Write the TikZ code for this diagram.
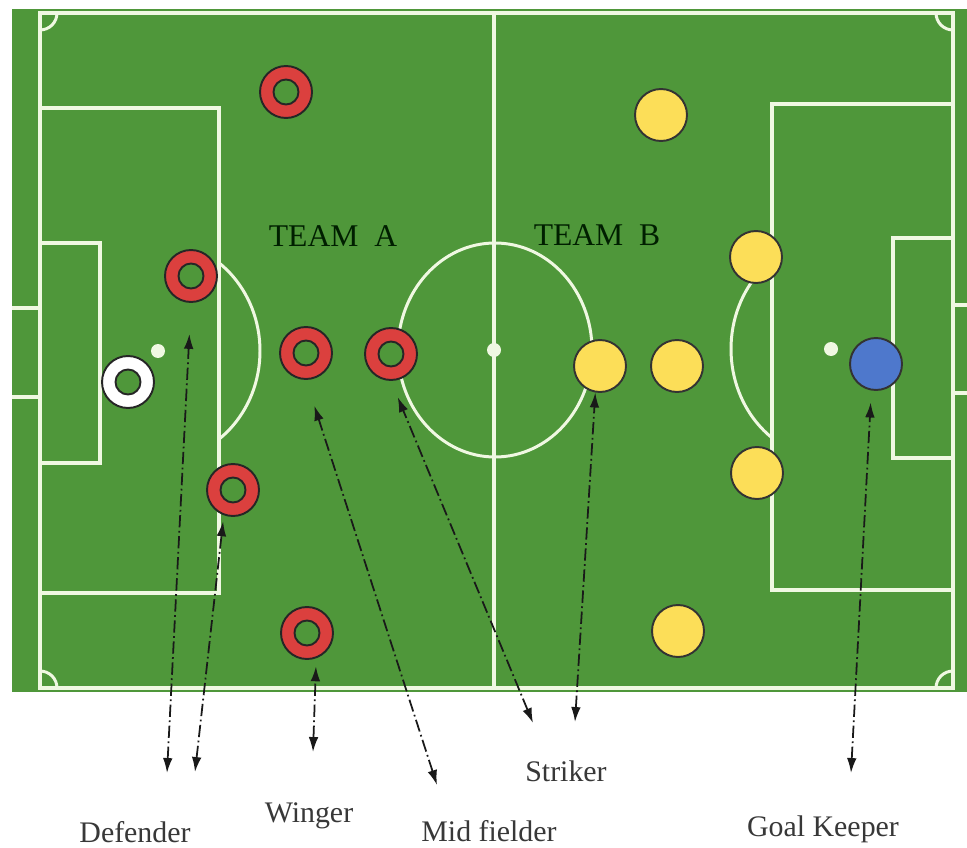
\documentclass[tikz,border=0pt]{standalone}
\usepackage{fontspec}
\setmainfont{Liberation Serif}
\usepackage{tikz}
\usetikzlibrary{arrows.meta}
\definecolor{pitch}{RGB}{79,151,58}
\definecolor{chalk}{RGB}{240,248,226}
\definecolor{redteam}{RGB}{219,64,62}
\definecolor{yellowteam}{RGB}{252,222,88}
\definecolor{blueteam}{RGB}{78,120,204}
\tikzstyle{line} = [draw=chalk, line width=2pt]
\tikzstyle{spot} = [circle, fill=chalk, minimum size=0.28cm, inner sep=0pt]
\tikzstyle{ringA} = [circle, minimum size=1.04cm, inner sep=0pt, fill=redteam, draw=black!85, line width=1.1pt,
	path picture={\draw[fill=pitch, draw=black!85, line width=1.1pt] (path picture bounding box.center) circle (0.25cm);}]
\tikzstyle{keeperA} = [ringA, fill=white]
\tikzstyle{discB} = [circle, minimum size=1.04cm, inner sep=0pt, fill=yellowteam, draw=black!80, line width=1.1pt]
\tikzstyle{keeperB} = [discB, fill=blueteam]
\tikzstyle{role} = [black!90, line width=1pt, dash pattern=on 7pt off 2pt on 1pt off 2pt, <->, >={Latex[length=8.5pt,width=5.5pt]}]
\tikzstyle{team} = [text=black!80!green!60!black, font=\fontsize{18}{20}\selectfont]
\tikzstyle{lbl} = [text=black!78, font=\fontsize{17}{19}\selectfont]

\begin{document}
\begin{tikzpicture}[x=0.02cm, y=-0.02cm]
	\fill[white] (0,0) rectangle (967,848);
	\useasboundingbox (0,0) rectangle (967,848);
	\fill[pitch] (12,9) rectangle (967,692);

	% pitch markings
	\draw[line] (40,13) rectangle (953,688);
	\draw[line] (494,13) -- (494,688);
	\draw[line] (12,308) -- (40,308) (12,397) -- (40,397);
	\draw[line] (953,305) -- (967,305) (953,393) -- (967,393);
	\draw[line] (40,108) rectangle (219,593);
	\draw[line] (40,243) rectangle (100,463);
	\draw[line] (953,104) rectangle (772,590);
	\draw[line] (953,238) rectangle (893,458);
	\draw[line, line width=1.7pt] (495,350) ellipse (97 and 107);
	\coordinate (lspot) at (158,351);
	\coordinate (rspot) at (831,349);
	\begin{scope}
		\clip (40,13) rectangle (953,688);
		\draw[line, line width=1.7pt] (40,13) circle (17) (953,13) circle (17)
			(40,688) circle (17) (953,688) circle (17);
	\end{scope}
	\begin{scope}
		\clip (219,13) rectangle (953,688);
		\draw[line, line width=1.7pt] (lspot) ellipse (102 and 110);
	\end{scope}
	\begin{scope}
		\clip (40,13) rectangle (772,688);
		\draw[line, line width=1.7pt] (rspot) ellipse (100 and 110);
	\end{scope}
	\node[spot] (cs) at (494,350) {};
	\node[spot] (ls) at (lspot) {};
	\node[spot] (rs) at (rspot) {};

	% team names
	\node[team] (ta) at (333,236) {TEAM\ \ A};
	\node[team] (tb) at (597,235) {TEAM\ \ B};

	% team A
	\node[ringA] (wA1) at (286,92) {};
	\node[ringA] (d1) at (191,276) {};
	\node[ringA] (m) at (306,353) {};
	\node[ringA] (sA) at (391,354) {};
	\node[ringA] (d2) at (233,490) {};
	\node[ringA] (w) at (307,633) {};
	\node[keeperA] (gkA) at (128,382) {};

	% team B
	\node[discB] (b1) at (661,115) {};
	\node[discB] (b2) at (756,257) {};
	\node[discB] (sB) at (600,366) {};
	\node[discB] (b4) at (677,366) {};
	\node[discB] (b5) at (757,473) {};
	\node[discB] (b6) at (678,631) {};
	\node[keeperB] (gk) at (876,364) {};

	% labels
	\node[lbl] (def) at (135,832) {Defender};
	\node[lbl] (wing) at (309,816) {Winger};
	\node[lbl] (mid) at (489,831) {Mid fielder};
	\node[lbl] (str) at (566,771) {Striker};
	\node[lbl] (keep) at (823,829) {Goal Keeper};

	\coordinate (defL1) at (167,773);
	\coordinate (defL2) at (195,772);
	\coordinate (wingL) at (313,752);
	\coordinate (midL) at (437,785);
	\coordinate (strL1) at (533,723);
	\coordinate (strL2) at (575,722);
	\coordinate (keepL) at (851,773);

	\draw[role, shorten >=0.62cm] (defL1) -- (d1.south);
	\draw[role, shorten >=0.12cm] (defL2) -- (d2.250);
	\draw[role, shorten >=0.16cm] (wingL) -- (w.290);
	\draw[role, shorten >=0.54cm] (midL) -- (m.south);
	\draw[role, shorten >=0.35cm] (strL1) -- (sA.south);
	\draw[role] (strL2) -- (sB.260);
	\draw[role, shorten >=0.24cm] (keepL) -- (gk.260);
\end{tikzpicture}
\end{document}
